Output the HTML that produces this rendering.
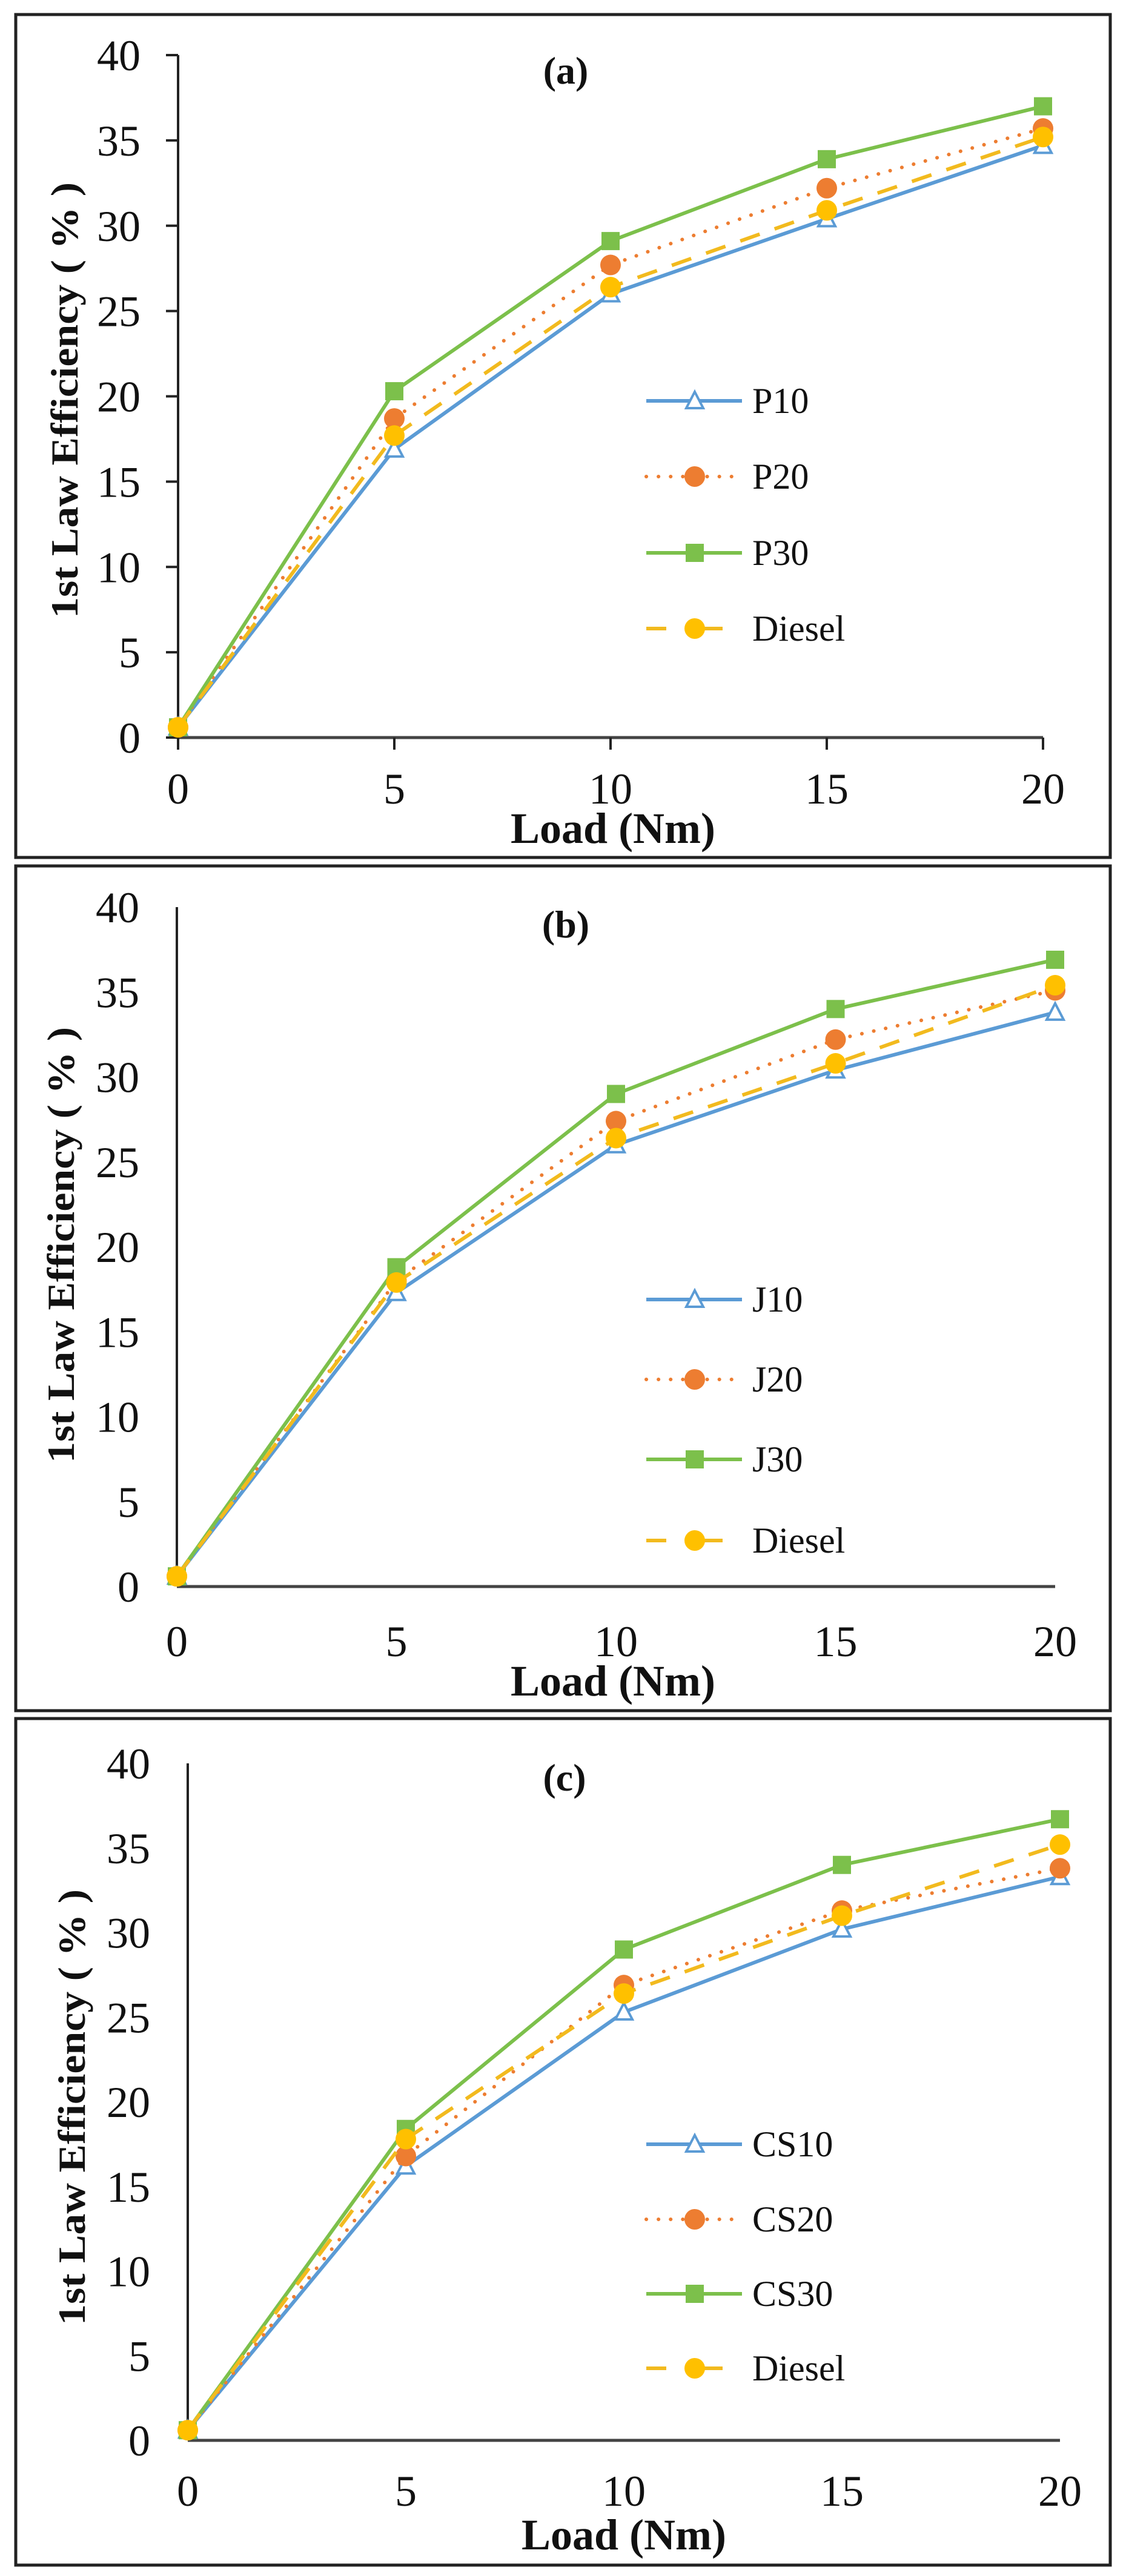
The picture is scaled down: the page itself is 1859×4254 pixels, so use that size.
<!DOCTYPE html>
<html><head><meta charset="utf-8">
<style>
html,body{margin:0;padding:0;background:#fff;}
svg{display:block;}
text{font-family:"Liberation Serif",serif;fill:#111;}
</style></head>
<body>
<svg id="fig" width="1859" height="4254" viewBox="0 0 1859 4254" xmlns="http://www.w3.org/2000/svg"></svg>
<script>
// ---- data ----
const loads = [0, 5, 10, 15, 20];
const yTicks = [0, 5, 10, 15, 20, 25, 30, 35, 40];
const xTickLabels = ["0", "5", "10", "15", "20"];
const aP10 = [0.6, 16.9, 26.0, 30.4, 34.7];
const aP20 = [0.6, 18.7, 27.7, 32.2, 35.7];
const aP30 = [0.6, 20.3, 29.1, 33.9, 37.0];
const aDiesel = [0.6, 17.7, 26.4, 30.9, 35.2];
const bJ10 = [0.6, 17.3, 26.0, 30.4, 33.8];
const bJ20 = [0.6, 18.0, 27.4, 32.2, 35.1];
const bJ30 = [0.6, 18.8, 29.0, 34.0, 36.9];
const bDiesel = [0.6, 17.9, 26.4, 30.8, 35.4];
const cCS10 = [0.6, 16.2, 25.3, 30.2, 33.3];
const cCS20 = [0.6, 16.8, 26.9, 31.3, 33.8];
const cCS30 = [0.6, 18.4, 29.0, 34.0, 36.7];
const cDiesel = [0.6, 17.8, 26.4, 31.0, 35.2];
const namesA = ["P10", "P20", "P30", "Diesel"];
const namesB = ["J10", "J20", "J30", "Diesel"];
const namesC = ["CS10", "CS20", "CS30", "Diesel"];

const NS = "http://www.w3.org/2000/svg";
const svg = document.getElementById("fig");
function mk(tag, attrs, parent) {
  const e = document.createElementNS(NS, tag);
  for (const k in attrs) e.setAttribute(k, attrs[k]);
  (parent || svg).appendChild(e);
  return e;
}
const styles = [
  {color: "#5B9BD5", dash: null, marker: "tri"},
  {color: "#ED7D31", dash: "0.1 20", marker: "circle", cap: "round"},
  {color: "#7CC04B", dash: null, marker: "square"},
  {color: "#F2BA1E", dash: "34 26", marker: "circle", fill: "#FFC000"}
];

function marker(g, type, x, y, st) {
  let m;
  if (type === "tri") {
    m = mk("polygon", {points: `${x},${y-15} ${x+14},${y+12} ${x-14},${y+12}`, fill: "#fff", stroke: st.color, "stroke-width": 4}, g);
  } else if (type === "circle") {
    m = mk("circle", {cx: x, cy: y, r: 17, fill: st.fill || st.color}, g);
  } else {
    m = mk("rect", {x: x-15, y: y-15, width: 30, height: 30, fill: st.color}, g);
  }
  return m;
}

function panel(cfg) {
  const g = mk("g", {});
  
  
  const border = mk("rect", {x: 26, y: cfg.top, width: 1807, height: cfg.bottom - cfg.top, fill: "none", stroke: "#222", "stroke-width": 5}, g);
  
  
  const xs = v => cfg.x0 + (cfg.x1 - cfg.x0) * v / 20;
  const ys = v => cfg.y0 - (cfg.y0 - cfg.y40) * v / 40;
  // axes
  const ya = mk("line", {x1: cfg.x0, y1: ys(40), x2: cfg.x0, y2: ys(0), stroke: "#222", "stroke-width": 4}, g);
  
  
  const xa = mk("line", {x1: cfg.x0, y1: ys(0), x2: cfg.x1, y2: ys(0), stroke: "#444", "stroke-width": 5}, g);
  
  
  yTicks.forEach(t => {
    if (cfg.ticks) mk("line", {x1: cfg.x0 - 20, y1: ys(t), x2: cfg.x0, y2: ys(t), stroke: "#222", "stroke-width": 4}, g);
    const tx = mk("text", {x: cfg.x0 - 62, y: ys(t) + 25, "text-anchor": "end", "font-size": 72}, g);
    tx.textContent = String(t);
    
    
  });
  loads.forEach((l, i) => {
    if (cfg.ticks) mk("line", {x1: xs(l), y1: ys(0), x2: xs(l), y2: ys(0) + 20, stroke: "#222", "stroke-width": 4}, g);
    const tx = mk("text", {x: xs(l), y: cfg.xLabelY, "text-anchor": "middle", "font-size": 72}, g);
    tx.textContent = xTickLabels[i];
    
    
  });
  // titles
  const t1 = mk("text", {x: cfg.titleX, y: cfg.titleY, "text-anchor": "middle", "font-size": 64, "font-weight": "bold"}, g);
  t1.textContent = cfg.label;
  
  
  const xt = mk("text", {x: cfg.xtX, y: cfg.xtY, "text-anchor": "middle", "font-size": 72, "font-weight": "bold"}, g);
  xt.textContent = "Load (Nm)";
  
  
  const yt = mk("text", {x: 0, y: 0, "text-anchor": "middle", "font-size": 64, "font-weight": "bold", transform: `translate(${cfg.ytX},${cfg.ytY}) rotate(-90)`, textLength: 720, lengthAdjust: "spacingAndGlyphs"}, g);
  yt.textContent = "1st Law Efficiency ( % )";
  
  
  // series
  cfg.series.forEach((vals, si) => {
    const st = styles[si];
    const sg = mk("g", {}, g);
    
    
    const pts = vals.map((v, i) => xs(loads[i]) + "," + ys(v)).join(" ");
    const pl = mk("polyline", {points: pts, fill: "none", stroke: st.color, "stroke-width": 6, "stroke-linejoin": "round"}, sg);
    if (st.dash) pl.setAttribute("stroke-dasharray", st.dash);
    if (st.cap) pl.setAttribute("stroke-linecap", st.cap);
    
    
    vals.forEach((v, i) => {
      const m = marker(sg, st.marker, xs(loads[i]), ys(v), st);
      
      
    });
    // legend
    const ly = cfg.legendY[si];
    const lg = mk("g", {}, g);
    
    
    const ll = mk("line", {x1: 1067, y1: ly, x2: 1225, y2: ly, stroke: st.color, "stroke-width": 6}, lg);
    if (st.dash) ll.setAttribute("stroke-dasharray", si === 3 ? "33 60" : st.dash);
    if (st.cap) ll.setAttribute("stroke-linecap", st.cap);
    marker(lg, st.marker, 1147, ly, st);
    const lt = mk("text", {x: 1242, y: ly + 20, "font-size": 60}, lg);
    lt.textContent = cfg.names[si];
  });
}

panel({id: "panel-a", label: "(a)", top: 24, bottom: 1416, x0: 294, x1: 1722, y0: 1218, y40: 91, ticks: true,
  xLabelY: 1327, titleX: 934, titleY: 138, xtX: 1012, xtY: 1392, ytX: 128, ytY: 661,
  series: [aP10, aP20, aP30, aDiesel], names: namesA, legendY: [662, 787, 913, 1038]});
panel({id: "panel-b", label: "(b)", top: 1430, bottom: 2825, x0: 292, x1: 1742, y0: 2620, y40: 1498, ticks: false,
  xLabelY: 2735, titleX: 934, titleY: 1548, xtX: 1012, xtY: 2800, ytX: 122, ytY: 2056,
  series: [bJ10, bJ20, bJ30, bDiesel], names: namesB, legendY: [2146, 2278, 2410, 2544]});
panel({id: "panel-c", label: "(c)", top: 2838, bottom: 4236, x0: 310, x1: 1750, y0: 4030, y40: 2912, ticks: false,
  xLabelY: 4138, titleX: 932, titleY: 2957, xtX: 1030, xtY: 4210, ytX: 140, ytY: 3480,
  series: [cCS10, cCS20, cCS30, cDiesel], names: namesC, legendY: [3541, 3665, 3788, 3911]});
</script>
</body></html>
